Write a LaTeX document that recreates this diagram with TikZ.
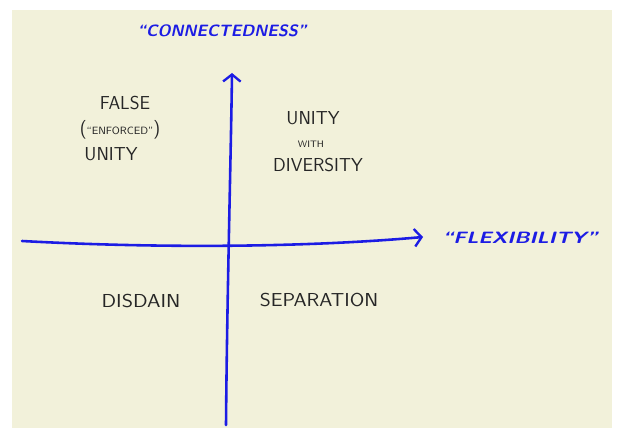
\documentclass[tikz,border=0pt]{standalone}
\usepackage{fontspec}
\usetikzlibrary{arrows.meta}

\definecolor{paper}{RGB}{242,241,218}
\definecolor{pen}{RGB}{28,28,228}
\definecolor{pencil}{RGB}{38,38,38}

\begin{document}
\begin{tikzpicture}[x=0.03cm,y=-0.03cm,
    axis/.style={pen,line width=2.2pt,line cap=round,
      -{Straight Barb[length=6pt,width=15pt,line width=2pt]}},
    axislabel/.style={pen,font=\fontsize{14}{16}\selectfont\sffamily\itshape\bfseries},
    quadrant/.style={pencil,align=center,inner sep=0pt,
      font=\fontsize{16}{19}\selectfont\sffamily}]
  % paper
  \useasboundingbox (0,0) rectangle (617,428);
  \fill[white] (0,0) rectangle (617,428);
  \fill[paper] (12,10) rectangle (612,428);

  % ends of the two axes
  \coordinate (west)  at (22,241);
  \coordinate (east)  at (423,237);
  \coordinate (south) at (226,425);
  \coordinate (north) at (232,73);

  \draw[axis] (west) .. controls (150,248) and (300,248) .. (east);
  \draw[axis] (south) .. controls (227,300) and (231,150) .. (north);

  \node[axislabel] (connected) at (222,31) {“CONNECTEDNESS”};
  \node[axislabel] (flexible)  at (520,238)
    {\scalebox{1.28}[1]{“FLEXIBILITY”}};

  % upper left
  \node[quadrant] (false)    at (125,103) {FALSE};
  \node[quadrant] (enforced) at (120,130)
    {({\fontsize{9}{10}\selectfont“ENFORCED”})};
  \node[quadrant] (unityl)   at (111,154) {UNITY};

  % upper right
  \node[quadrant] (unityr)   at (313,118) {UNITY};
  \node[quadrant,font=\fontsize{8}{9}\selectfont\sffamily] (with) at (311,144) {WITH};
  \node[quadrant] (diverse)  at (318,165) {DIVERSITY};

  % lower half
  \node[quadrant] (disdain)  at (141,301) {\scalebox{1.15}[1]{DISDAIN}};
  \node[quadrant] (separate) at (319,300) {\scalebox{1.12}[1]{SEPARATION}};
\end{tikzpicture}
\end{document}
